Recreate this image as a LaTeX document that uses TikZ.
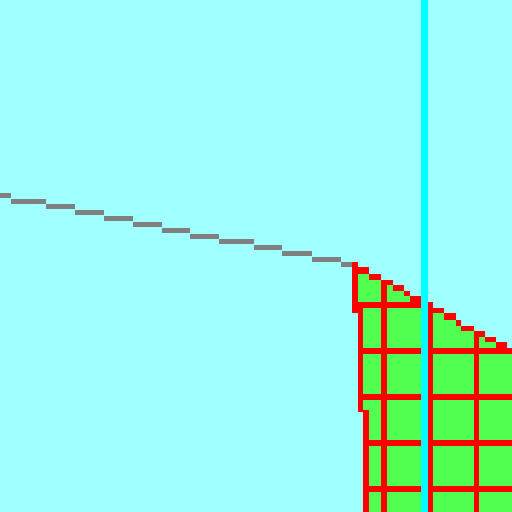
\documentclass[tikz,border=0pt]{standalone}
\usepackage{xcolor}
\usepackage{tikz}
\definecolor{skyPale}{RGB}{160,255,255}
\definecolor{gridGreen}{RGB}{80,255,80}
\definecolor{gridRed}{RGB}{255,0,0}
\definecolor{axisCyan}{RGB}{0,255,255}
\definecolor{stepGray}{RGB}{128,128,128}

\begin{document}
\begin{tikzpicture}[x=1pt, y=-1pt,
		sky/.style={fill=skyPale},
		field/.style={fill=gridGreen},
		redline/.style={fill=gridRed},
		axis/.style={fill=axisCyan},
		grayline/.style={fill=stepGray}]
	\useasboundingbox (0,0) rectangle (512,512);
	\fill[sky] (0,0) rectangle (512,512);
	% gray staircase
	\foreach \xa/\xb/\ya in {0/11/193, 11/46/199, 46/75/204, 75/104/210, 104/133/216,
			133/162/222, 162/190/228, 190/219/234, 219/254/239, 254/282/245,
			282/312/251, 312/341/257, 341/352/262}
		\fill[grayline] (\xa,\ya) rectangle (\xb,\ya+5);
	% green field
	\fill[field] (352,262) -| (358,267) -| (369,274) -| (381,280) -| (393,285)
		-| (404,291) -| (410,296) -| (421,302) -| (433,308) -| (444,313)
		-| (456,320) -| (461,326) -| (474,331) -| (485,337) -| (496,342)
		-| (507,348) -| (512,512) -| (363,412) -| (358,313) -| cycle;
	% red steps on the top edge
	\foreach \xa/\xb/\ya/\yb in {358/369/267/274, 369/381/274/280, 381/393/280/285,
			393/404/285/291, 404/410/291/296, 410/421/296/302, 433/444/308/313,
			444/456/313/320, 456/461/320/326, 461/474/326/331, 474/485/331/337,
			485/496/337/342, 496/507/342/348, 507/512/348/354}
		\fill[redline] (\xa,\ya) rectangle (\xb,\yb);
	% left border
	\fill[redline] (352,262) rectangle (358,313);
	\fill[redline] (358,308) rectangle (363,412);
	\fill[redline] (363,410) rectangle (369,512);
	% grid
	\foreach \xa/\xb/\ya in {381/387/280, 428/433/302, 474/479/331}
		\fill[redline] (\xa,\ya) rectangle (\xb,512);
	\fill[redline] (352,302) rectangle (421,308);
	\foreach \ya/\xa in {348/358, 394/358, 440/363, 486/363}
		\fill[redline] (\xa,\ya) rectangle (512,\ya+6);
	% cyan axis
	\fill[axis] (421,0) rectangle (428,512);
\end{tikzpicture}
\end{document}
